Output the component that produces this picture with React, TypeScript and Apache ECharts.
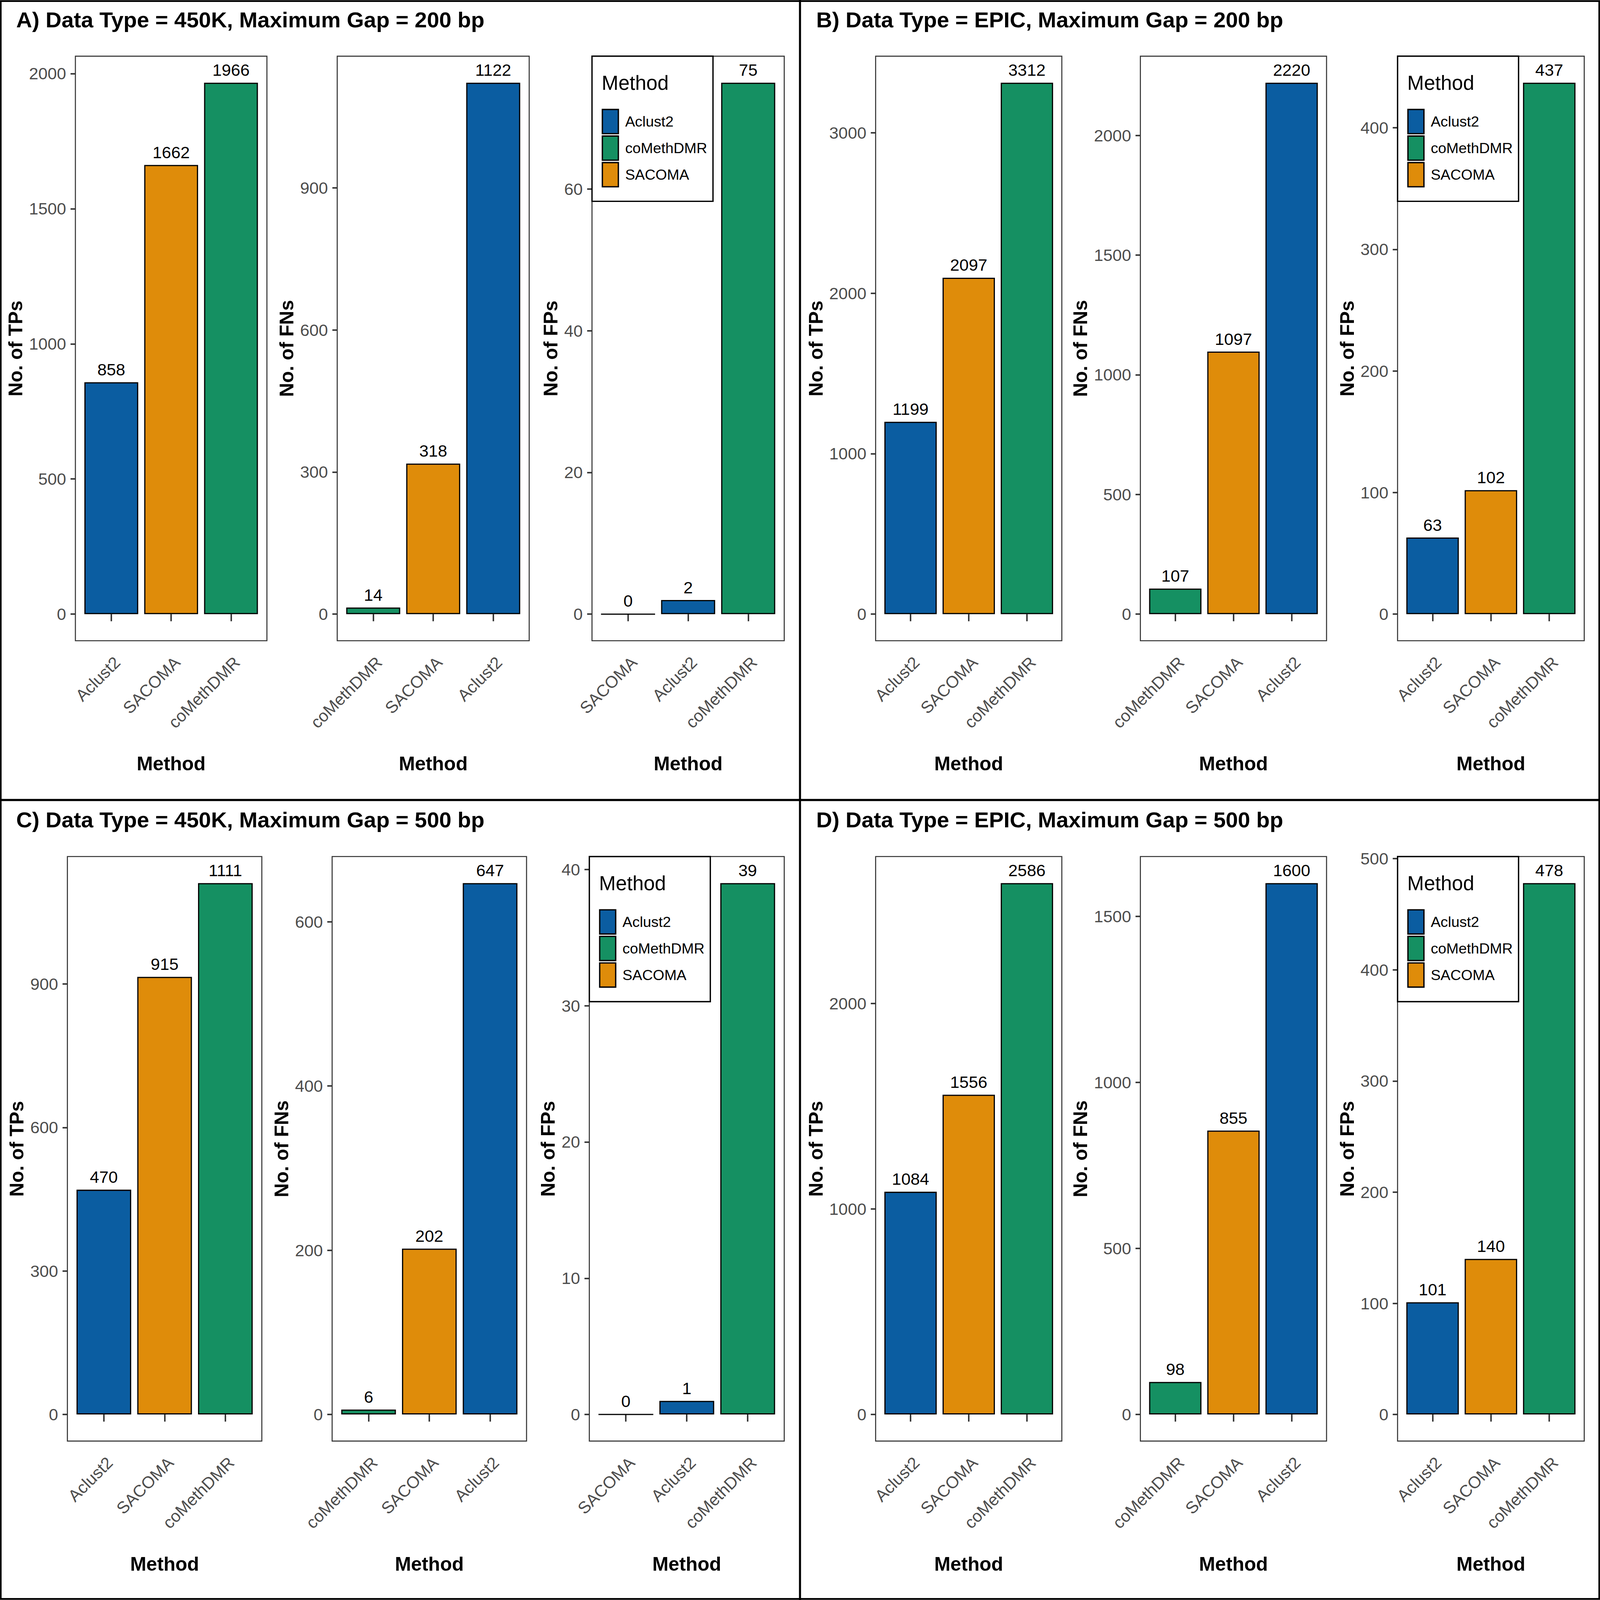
import React, { useEffect, useRef } from "react";
import * as echarts from "echarts";

const FONT = "'Liberation Sans', Arial, Helvetica, sans-serif";

// methods, in legend order
const methodNames = ["Aclust2", "coMethDMR", "SACOMA"];
const methodColors = ["#0B5DA1", "#159062", "#DF8C0A"];

const panelTitles = [
  "A) Data Type = 450K, Maximum Gap = 200 bp",
  "B) Data Type = EPIC, Maximum Gap = 200 bp",
  "C) Data Type = 450K, Maximum Gap = 500 bp",
  "D) Data Type = EPIC, Maximum Gap = 500 bp",
];
const measureNames = ["No. of TPs", "No. of FNs", "No. of FPs"];

// category order on the x axis of each plot
const tpOrder = ["Aclust2", "SACOMA", "coMethDMR"];
const fnOrder = ["coMethDMR", "SACOMA", "Aclust2"];
const fpOrder450K = ["SACOMA", "Aclust2", "coMethDMR"];
const fpOrderEPIC = ["Aclust2", "SACOMA", "coMethDMR"];

// values, same order as the categories above
const tpA = [858, 1662, 1966];
const fnA = [14, 318, 1122];
const fpA = [0, 2, 75];
const tpB = [1199, 2097, 3312];
const fnB = [107, 1097, 2220];
const fpB = [63, 102, 437];
const tpC = [470, 915, 1111];
const fnC = [6, 202, 647];
const fpC = [0, 1, 39];
const tpD = [1084, 1556, 2586];
const fnD = [98, 855, 1600];
const fpD = [101, 140, 478];

// y tick labels
const tpTicksA = [0, 500, 1000, 1500, 2000];
const fnTicksA = [0, 300, 600, 900];
const fpTicksA = [0, 20, 40, 60];
const tpTicksB = [0, 1000, 2000, 3000];
const fnTicksB = [0, 500, 1000, 1500, 2000];
const fpTicksB = [0, 100, 200, 300, 400];
const tpTicksC = [0, 300, 600, 900];
const fnTicksC = [0, 200, 400, 600];
const fpTicksC = [0, 10, 20, 30, 40];
const tpTicksD = [0, 1000, 2000];
const fnTicksD = [0, 500, 1000, 1500];
const fpTicksD = [0, 100, 200, 300, 400, 500];

const panels = [
  { cats: [tpOrder, fnOrder, fpOrder450K], vals: [tpA, fnA, fpA], ticks: [tpTicksA, fnTicksA, fpTicksA] },
  { cats: [tpOrder, fnOrder, fpOrderEPIC], vals: [tpB, fnB, fpB], ticks: [tpTicksB, fnTicksB, fpTicksB] },
  { cats: [tpOrder, fnOrder, fpOrder450K], vals: [tpC, fnC, fpC], ticks: [tpTicksC, fnTicksC, fpTicksC] },
  { cats: [tpOrder, fnOrder, fpOrderEPIC], vals: [tpD, fnD, fpD], ticks: [tpTicksD, fnTicksD, fpTicksD] },
];

// layout on a 6600 x 4500 design, stretched to fill the window
const W = 6600;
const H = 4500;
const frameX = [
  [[311, 1101], [1391, 2183], [2442, 3235]],
  [[3612, 4380], [4704, 5472], [5765, 6535]],
  [[278, 1080], [1370, 2172], [2431, 3235]],
  [[3612, 4380], [4704, 5472], [5765, 6535]],
];
const rowTop = [158, 2409];
const frameH = 1644;
const titleX = [67, 3367, 67, 3367];
const titleY = [56, 56, 2305, 2305];

const App = () => {
  const chartRef = useRef<HTMLDivElement | null>(null);

  useEffect(() => {
    document.body.style.margin = "0";
    const el = chartRef.current;
    if (!el) return;
    const vw = window.innerWidth || W;
    const vh = window.innerHeight || H;
    const sx = vw / W;
    const sy = vh / H;
    const fs = Math.sqrt(sx * sy);
    el.style.width = vw + "px";
    el.style.height = vh + "px";
    const myChart = echarts.init(el, undefined, { renderer: "svg" });

    const grids: any[] = [];
    const xAxes: any[] = [];
    const yAxes: any[] = [];
    const series: any[] = [];
    const legends: any[] = [];
    const graphics: any[] = [];

    panels.forEach((p, pi) => {
      const top = rowTop[pi < 2 ? 0 : 1];
      for (let si = 0; si < 3; si++) {
        const k = pi * 3 + si;
        const [x0, x1] = frameX[pi][si];
        const w = x1 - x0;
        const cats = p.cats[si];
        const vals = p.vals[si];
        const ticks = p.ticks[si];
        const vmax = Math.max(...vals);
        const digits = String(ticks[ticks.length - 1]).length;

        grids.push({
          left: x0 * sx,
          top: top * sy,
          width: w * sx,
          height: frameH * sy,
          show: true,
          backgroundColor: "#fff",
          borderColor: "#333",
          borderWidth: 3.5 * fs,
        });
        xAxes.push({
          type: "value",
          gridIndex: k,
          min: 0.4,
          max: 3.6,
          splitLine: { show: false },
          axisLine: { show: false },
          axisTick: { show: true, length: 20 * sy, lineStyle: { color: "#333", width: 5 * fs }, customValues: [1, 2, 3] },
          axisLabel: {
            customValues: [1, 2, 3],
            formatter: (v: number) => cats[Math.round(v) - 1] || "",
            rotate: 45,
            align: "right",
            verticalAlign: "top",
            margin: 36 * sy,
            fontSize: 57 * fs,
            color: "#4D4D4D",
            fontFamily: FONT,
          },
          name: "Method",
          nameLocation: "middle",
          nameGap: 346 * sy,
          nameTextStyle: { fontSize: 66 * fs, fontWeight: "bold", color: "#000", fontFamily: FONT, verticalAlign: "middle" },
        });
        yAxes.push({
          type: "value",
          gridIndex: k,
          min: -0.05 * vmax,
          max: 1.05 * vmax,
          splitLine: { show: false },
          axisLine: { show: false },
          axisTick: { show: true, length: 20 * sx, lineStyle: { color: "#333", width: 5 * fs }, customValues: ticks },
          axisLabel: {
            customValues: ticks,
            formatter: (v: number) => String(Math.round(v)),
            margin: 38 * sx,
            fontSize: 57 * fs,
            color: "#4D4D4D",
            fontFamily: FONT,
          },
          name: measureNames[si],
          nameLocation: "middle",
          nameRotate: 90,
          nameGap: 93 * sx + digits * 31.7 * fs,
          nameTextStyle: { fontSize: 66 * fs, fontWeight: "bold", color: "#000", fontFamily: FONT, verticalAlign: "middle", align: "center" },
        });
        const barWidth = (w / 3.2) * 0.9 * sx;
        cats.forEach((m, ci) => {
          const mi = methodNames.indexOf(m);
          series.push({
            type: "bar",
            name: m,
            xAxisIndex: k,
            yAxisIndex: k,
            data: [[ci + 1, vals[ci]]],
            barWidth: barWidth,
            barGap: "-100%",
            itemStyle: { color: methodColors[mi], borderColor: "#000", borderWidth: 4 * fs },
            label: {
              show: true,
              position: "top",
              distance: 12 * sy,
              fontSize: 57 * fs,
              color: "#000",
              fontFamily: FONT,
              formatter: (pr: any) => String(pr.value[1]),
            },
          });
        });
      }

      // legend inside the third plot, kept narrow enough to clear the last bar
      const [lx] = frameX[pi][2];
      const legendFont = 58 * sx * 1.05;
      legends.push({
        orient: "vertical",
        left: lx * sx,
        top: top * sy,
        data: methodNames,
        selectedMode: false,
        icon: "rect",
        itemWidth: 66 * sx,
        itemHeight: 68 * sy,
        itemGap: 3 * sy,
        padding: [148 * sy, 24 * sx, 39 * sy, 40 * sx],
        backgroundColor: "#fff",
        borderColor: "#000",
        borderWidth: 4.5 * fs,
        itemStyle: { borderColor: "#000", borderWidth: 4.5 * fs },
        textStyle: { fontSize: legendFont, color: "#000", fontFamily: FONT, padding: [0, 0, 0, 20 * sx] },
      });
      graphics.push({
        type: "text",
        x: (lx + 40) * sx,
        y: (top + 75) * sy,
        z: 100,
        style: { text: "Method", fontSize: 72 * sx * 1.15, fontFamily: FONT, fill: "#000", verticalAlign: "middle", align: "left" },
      });
      graphics.push({
        type: "text",
        x: titleX[pi] * sx,
        y: titleY[pi] * sy,
        style: { text: panelTitles[pi], fontSize: 75 * fs, fontWeight: "bold", fontFamily: FONT, fill: "#000", verticalAlign: "middle", align: "left" },
      });
    });

    // panel borders
    graphics.push({
      type: "rect",
      shape: { x: 3 * sx, y: 3 * sy, width: (W - 6) * sx, height: (H - 6) * sy },
      style: { fill: "none", stroke: "#000", lineWidth: 6 * fs },
    });
    graphics.push({ type: "line", shape: { x1: 3300 * sx, y1: 0, x2: 3300 * sx, y2: H * sy }, style: { stroke: "#000", lineWidth: 7 * fs } });
    graphics.push({ type: "line", shape: { x1: 0, y1: 2250 * sy, x2: W * sx, y2: 2250 * sy }, style: { stroke: "#000", lineWidth: 7 * fs } });

    const option = {
      animation: false,
      backgroundColor: "#fff",
      grid: grids,
      xAxis: xAxes,
      yAxis: yAxes,
      series: series,
      legend: legends,
      graphic: graphics,
    };

    myChart.setOption(option);

    return () => {
      myChart.dispose();
    };
  }, []);

  return <div ref={chartRef} style={{ width: "6600px", height: "4500px" }}></div>;
};

export default App;
